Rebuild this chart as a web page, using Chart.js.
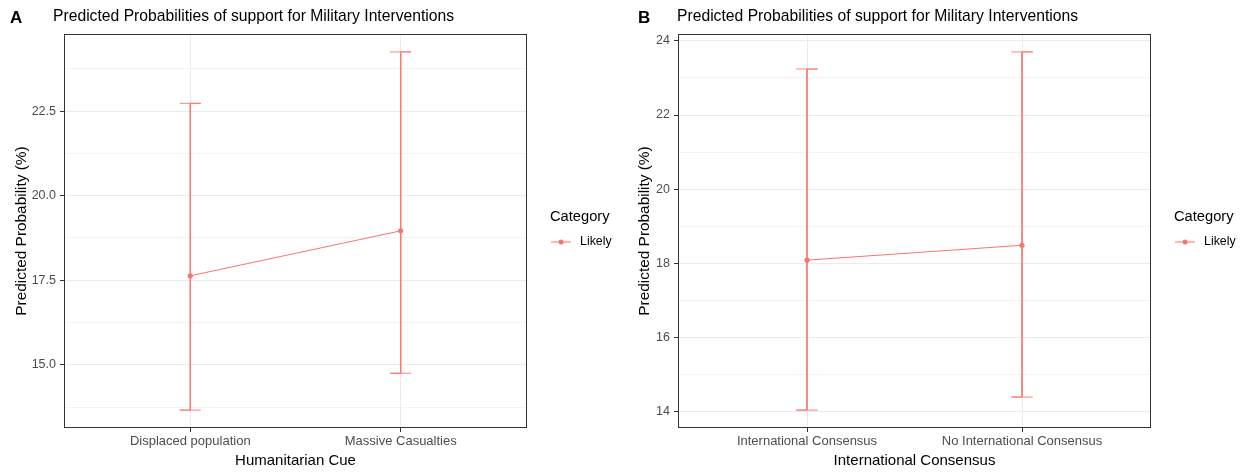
<!DOCTYPE html>
<html>
<head>
<meta charset="utf-8">
<script src="https://cdn.jsdelivr.net/npm/chart.js@4"></script>
<style>
  body { margin: 0; background: #fff; }
  #wrap { position: relative; width: 1245px; height: 472px; }
  canvas { position: absolute; top: 0; }
  #chartA { left: 0; }
  #chartB { left: 622px; }
</style>
</head>
<body>
<div id="wrap">
  <canvas id="chartA" width="622" height="472"></canvas>
  <canvas id="chartB" width="623" height="472"></canvas>
</div>
<script>
// panel A: humanitarian cue
const cuesA = ['Displaced population', 'Massive Casualties'];
const probA = [17.63, 18.96];
const lowA = [13.66, 14.75];
const highA = [22.73, 24.25];
const yMajorA = [15, 17.5, 20, 22.5];
const yMinorA = [13.75, 16.25, 18.75, 21.25, 23.75];

// panel B: international consensus
const consensusB = ['International Consensus', 'No International Consensus'];
const probB = [18.09, 18.49];
const lowB = [14.05, 14.40];
const highB = [23.24, 23.70];
const yMajorB = [14, 16, 18, 20, 22, 24];
const yMinorB = [15, 17, 19, 21, 23];

const RED = '#F8766D';
const FONT = "'Liberation Sans', Arial, sans-serif";

const decor = {
  id: 'decor',
  afterDatasetsDraw(chart, args, o) {
    const ctx = chart.ctx, a = chart.chartArea;
    ctx.save();
    ctx.strokeStyle = '#333333';
    ctx.lineWidth = 1;
    ctx.strokeRect(Math.round(a.left) + 0.5, Math.round(a.top) + 0.5,
      Math.round(a.right - a.left) - 1, Math.round(a.bottom - a.top) - 1);

    ctx.fillStyle = '#000';
    ctx.textBaseline = 'middle';
    ctx.textAlign = 'left';
    ctx.font = 'bold 17px ' + FONT;
    ctx.fillText(o.tag, o.tagX, 18);
    ctx.font = '15.7px ' + FONT;
    ctx.fillText(o.title, o.titleX, 17);

    // legend
    ctx.font = '14.7px ' + FONT;
    ctx.fillText('Category', o.legX, 217);
    ctx.strokeStyle = RED;
    ctx.beginPath();
    ctx.moveTo(o.legX + 1, 242);
    ctx.lineTo(o.legX + 21, 242);
    ctx.stroke();
    ctx.fillStyle = RED;
    ctx.beginPath();
    ctx.arc(o.legX + 11, 242, 2.5, 0, Math.PI * 2);
    ctx.fill();
    ctx.fillStyle = '#000';
    ctx.font = '12.4px ' + FONT;
    ctx.fillText('Likely', o.legX + 30, 242);
    ctx.restore();
  }
};

function buildPanel(id, p) {
  const lo = Math.min(...p.low), hi = Math.max(...p.high);
  const pad = (hi - lo) * 0.05;
  const majors = p.major;
  const datasets = [];
  p.low.forEach(function (l, i) {
    const x = i + 1, h = p.high[i];
    datasets.push({
      data: [{x: x - 0.05, y: h}, {x: x + 0.05, y: h}, {x: x, y: h},
             {x: x, y: l}, {x: x - 0.05, y: l}, {x: x + 0.05, y: l}],
      borderColor: RED,
      borderWidth: 0.9,
      pointRadius: 0,
      fill: false
    });
  });
  datasets.push({
    data: p.prob.map(function (v, i) { return {x: i + 1, y: v}; }),
    borderColor: RED,
    backgroundColor: RED,
    borderWidth: 1,
    pointRadius: 2.6,
    pointBorderWidth: 0,
    fill: false
  });

  return new Chart(document.getElementById(id), {
    type: 'line',
    data: {datasets: datasets},
    plugins: [decor],
    options: {
      responsive: false,
      animation: false,
      layout: {padding: {left: 0, right: p.padRight, top: 34, bottom: 0}},
      plugins: {
        legend: {display: false},
        tooltip: {enabled: false},
        decor: {tag: p.tag, tagX: p.tagX, title: 'Predicted Probabilities of support for Military Interventions',
                titleX: p.titleX, legX: p.legX}
      },
      scales: {
        x: {
          type: 'linear',
          min: 0.4,
          max: 2.6,
          afterFit: function (s) { s.height = 44; },
          afterBuildTicks: function (s) { s.ticks = p.cats.map(function (c, i) { return {value: i + 1}; }); },
          ticks: {
            color: '#4d4d4d',
            font: {family: FONT, size: 13},
            padding: 2,
            maxRotation: 0,
            callback: function (v) { return p.cats[v - 1]; }
          },
          grid: {color: '#ebebeb', lineWidth: 1, tickLength: 4, tickColor: '#333333'},
          border: {display: false},
          title: {display: true, text: p.xTitle, color: '#000', font: {family: FONT, size: 15}, padding: {top: 0, bottom: 2}}
        },
        y: {
          min: lo - pad,
          max: hi + pad,
          afterFit: function (s) { s.width = p.axisW; },
          afterBuildTicks: function (s) {
            s.ticks = majors.map(function (v) { return {value: v, major: true}; })
              .concat(p.minor.map(function (v) { return {value: v, major: false}; }));
          },
          ticks: {
            color: '#4d4d4d',
            font: {family: FONT, size: 12.5},
            padding: 4,
            callback: function (v) { return majors.indexOf(v) >= 0 ? v.toFixed(p.dec) : ''; }
          },
          grid: {
            color: '#ebebeb',
            lineWidth: function (c) { return c.tick && c.tick.major ? 1 : 0.6; },
            tickLength: 4,
            tickColor: function (c) { return c.tick && c.tick.major ? '#333333' : 'rgba(0,0,0,0)'; }
          },
          border: {display: false},
          title: {display: true, text: 'Predicted Probability (%)', color: '#000', font: {family: FONT, size: 15.4},
                  padding: {top: p.yTitlePad, bottom: 0}}
        }
      }
    }
  });
}

buildPanel('chartA', {
  tag: 'A', tagX: 10, titleX: 53, legX: 550, padRight: 95, axisW: 64, yTitlePad: 13, dec: 1,
  cats: cuesA, prob: probA, low: lowA, high: highA, major: yMajorA, minor: yMinorA,
  xTitle: 'Humanitarian Cue'
});

buildPanel('chartB', {
  tag: 'B', tagX: 16, titleX: 55, legX: 552, padRight: 94, axisW: 56, yTitlePad: 14, dec: 0,
  cats: consensusB, prob: probB, low: lowB, high: highB, major: yMajorB, minor: yMinorB,
  xTitle: 'International Consensus'
});
</script>
</body>
</html>
